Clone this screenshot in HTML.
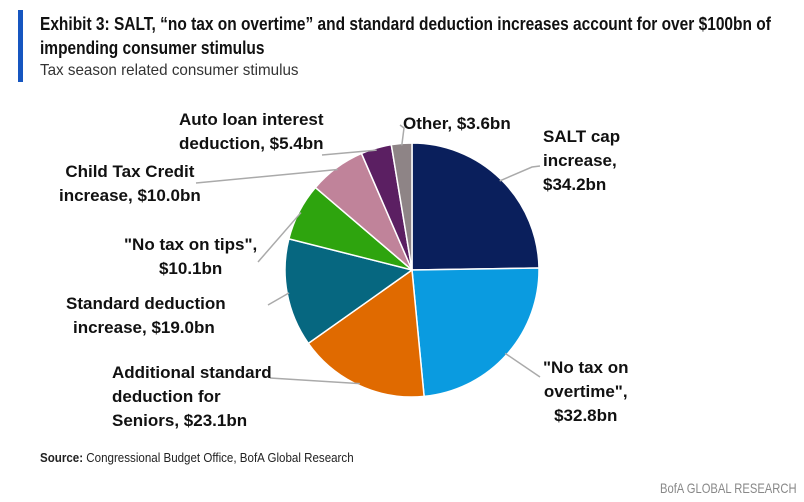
<!DOCTYPE html>
<html><head><meta charset="utf-8"><style>
body{margin:0;background:#fff;width:804px;height:502px;overflow:hidden;font-family:"Liberation Sans",sans-serif;position:relative}
.t{position:absolute;white-space:nowrap;transform-origin:left top}
.lbl{font-weight:bold;font-size:17px;color:#111;position:absolute;white-space:nowrap;line-height:24px}
</style></head><body>
<div style="position:absolute;left:18px;top:10px;width:5px;height:72px;background:#1656c0"></div>
<div class="t" style="left:40px;top:12px;font-weight:bold;font-size:18px;line-height:24px;color:#111;transform:scaleX(0.86)">Exhibit 3: SALT, “no tax on overtime” and standard deduction increases account for over $100bn of<br>impending consumer stimulus</div>
<div class="t" style="left:40px;top:62px;font-size:16px;color:#333;transform:scaleX(0.95)">Tax season related consumer stimulus</div>
<svg id="pie" width="804" height="502" style="position:absolute;left:0;top:0"></svg>
<div class="lbl" style="left:543px;top:125px">SALT cap<br>increase,<br>$34.2bn</div>
<div class="lbl" style="left:543px;top:356px;text-align:center">"No tax on<br>overtime",<br>$32.8bn</div>
<div class="lbl" style="left:112px;top:361px">Additional standard<br>deduction for<br>Seniors, $23.1bn</div>
<div class="lbl" style="left:66px;top:292px">Standard deduction<br><span style="margin-left:7px">increase, $19.0bn</span></div>
<div class="lbl" style="left:124px;top:233px;text-align:center">"No tax on tips",<br>$10.1bn</div>
<div class="lbl" style="left:59px;top:160px;text-align:center">Child Tax Credit<br>increase, $10.0bn</div>
<div class="lbl" style="left:179px;top:108px">Auto loan interest<br>deduction, $5.4bn</div>
<div class="lbl" style="left:403px;top:112px">Other, $3.6bn</div>
<div class="t" style="left:40px;top:450px;font-size:13px;color:#222;transform:scaleX(0.89)"><b>Source:</b> Congressional Budget Office, BofA Global Research</div>
<div class="t" style="left:660px;top:480px;font-size:14px;color:#888;transform:scaleX(0.8)">BofA GLOBAL RESEARCH</div>
<script>
const categories=["SALT cap increase","No tax on overtime","Additional standard deduction for Seniors","Standard deduction increase","No tax on tips","Child Tax Credit increase","Auto loan interest deduction","Other"];
const values=[34.2,32.8,23.1,19.0,10.1,10.0,5.4,3.6];
const colors=["#0a1f5c","#0a9be0","#e06a00","#066780","#2ea40e","#c0839a","#5b1f62","#8e8486"];
const leaders=[[[540,166],[532,167]],[[540,377]],[[270,378]],[[268,305]],[[258,262]],[[196,183]],[[322,155]],[[400,125],[404,128]]];
const svg=document.getElementById('pie');const NS="http://www.w3.org/2000/svg";
const cx=412,cy=270,r=127;
const total=values.reduce((a,b)=>a+b,0);
let a0=0;
values.forEach((v,i)=>{
  const a1=a0+v/total*2*Math.PI;
  const p=a=>[cx+r*Math.sin(a),cy-r*Math.cos(a)];
  const s=p(a0),e=p(a1),large=(a1-a0)>Math.PI?1:0;
  const path=document.createElementNS(NS,'path');
  path.setAttribute('d',`M${cx},${cy}L${s[0]},${s[1]}A${r},${r} 0 ${large} 1 ${e[0]},${e[1]}Z`);
  path.setAttribute('fill',colors[i]);path.setAttribute('stroke','#fff');path.setAttribute('stroke-width','1.5');
  
  
  svg.appendChild(path);
  const m=(a0+a1)/2;const pe=[cx+(r-2)*Math.sin(m),cy-(r-2)*Math.cos(m)];
  const pts=leaders[i].concat([pe]);
  const pl=document.createElementNS(NS,'polyline');
  pl.setAttribute('points',pts.map(q=>q.join(',')).join(' '));
  pl.setAttribute('fill','none');pl.setAttribute('stroke','#aaa');pl.setAttribute('stroke-width','1.5');
  
  
  svg.appendChild(pl);
  a0=a1;
});
</script>
</body></html>
